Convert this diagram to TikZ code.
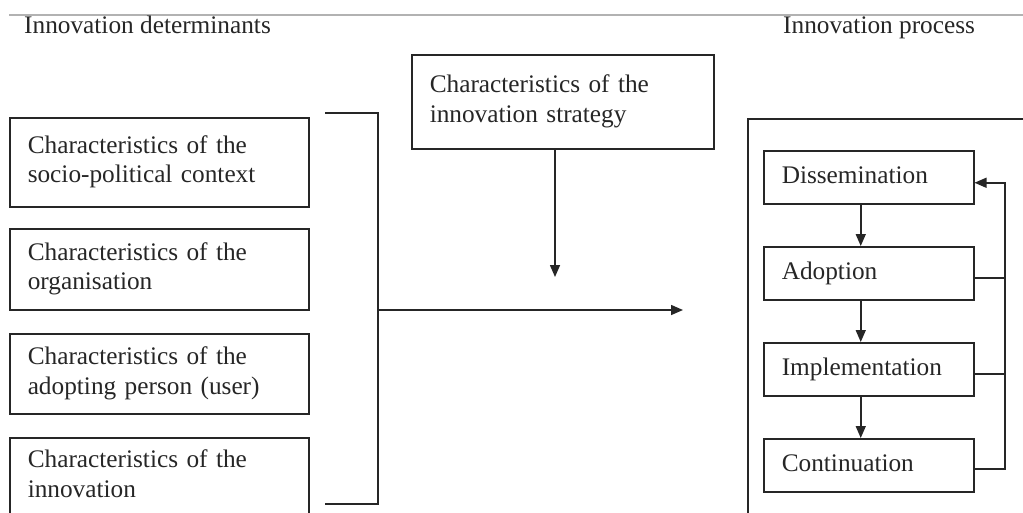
\documentclass[tikz,border=0pt]{standalone}
\usepackage{fontspec}
\setmainfont{Liberation Serif}
\usetikzlibrary{arrows.meta,calc}
\tikzset{
  lbl/.style={font=\fontsize{25.3}{29.5}\selectfont, text=black!85},
  ln/.style={draw=black!85, line width=1.5pt},
  box/.style={ln, anchor=north west, align=left, inner xsep=18pt, inner ysep=0pt, lbl},
  arr/.style={ln, -{Triangle[length=12pt,width=10pt]}},
  rule/.style={draw=black!30, line width=1.2pt},
}
\begin{document}
\begin{tikzpicture}[x=1pt,y=-1pt]
\useasboundingbox (0,0) rectangle (1023,512);
\clip (0,0) rectangle (1023,512);

% top rule and headings
\coordinate (r1) at (9,15);
\coordinate (r2) at (1023,15);
\draw[rule] (r1) -- (r2);
\node[lbl, anchor=base west, inner sep=0pt] (h1) at (24,33) {Innovation determinants};
\node[lbl, anchor=base west, inner sep=0pt] (h2) at (783,33) {Innovation process};

% determinants
\node[box, minimum width=299pt, minimum height=89pt, text width=263pt] (L1) at (9,117)
  {\strut Characteristics of the\\\strut socio-political context};
\node[box, minimum width=299pt, minimum height=81pt, text width=263pt] (L2) at (9,228)
  {\strut Characteristics of the\\\strut organisation};
\node[box, minimum width=299pt, minimum height=80pt, text width=263pt] (L3) at (9,333)
  {\strut Characteristics of the\\\strut adopting person (user)};
\node[box, minimum width=299pt, minimum height=78pt, text width=263pt] (L4) at (9,437)
  {\strut Characteristics of the\\\strut innovation};

% strategy
\node[box, minimum width=302pt, minimum height=94pt, text width=266pt] (S) at (411,54)
  {\strut Characteristics of the\\\strut innovation strategy};

% bracket and arrows
\coordinate (bt1) at (325,113);
\coordinate (bt2) at (378,113);
\coordinate (bb2) at (378,504);
\coordinate (bb1) at (325,504);
\draw[ln] (bt1) -- (bt2) -- (bb2) -- (bb1);
\coordinate (bm) at (378,310);
\coordinate (mend) at (683,310);
\draw[arr] (bm) -- (mend);
\coordinate (send) at (555,277);
\draw[arr] (S.south -| send) -- (send);

% process frame
\node[ln, anchor=north west, minimum width=320pt, minimum height=420pt, inner sep=0pt] (P) at (747,118) {};

\node[box, minimum width=210pt, minimum height=53pt, text width=174pt] (D) at (763,150) {\strut Dissemination};
\node[box, minimum width=210pt, minimum height=53pt, text width=174pt] (A) at (763,246) {\strut Adoption};
\node[box, minimum width=210pt, minimum height=53pt, text width=174pt] (I) at (763,342) {\strut Implementation};
\node[box, minimum width=210pt, minimum height=53pt, text width=174pt] (C) at (763,438) {\strut Continuation};

\draw[arr] ([xshift=-8pt]D.south) -- ([xshift=-8pt]A.north);
\draw[arr] ([xshift=-8pt]A.south) -- ([xshift=-8pt]I.north);
\draw[arr] ([xshift=-8pt]I.south) -- ([xshift=-8pt]C.north);

% feedback loop
\coordinate (fbx) at (1005,0);
\coordinate (ce) at ([yshift=-3.5pt]C.east);
\coordinate (ie) at ([yshift=-4.5pt]I.east);
\coordinate (ae) at ([yshift=-4.5pt]A.east);
\coordinate (de) at ([yshift=-5.5pt]D.east);
\draw[arr] (ce) -- (ce -| fbx) -- (de -| fbx) -- (de);
\draw[ln] (ie) -- (ie -| fbx);
\draw[ln] (ae) -- (ae -| fbx);
\end{tikzpicture}
\end{document}
